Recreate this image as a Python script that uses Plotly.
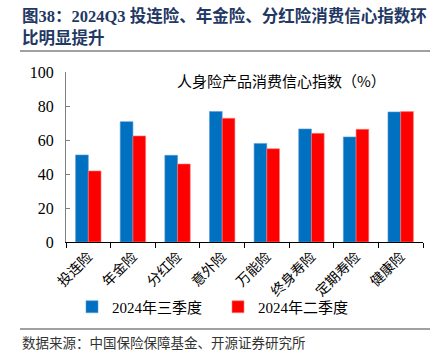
import plotly.graph_objects as go

categories = ["投连险", "年金险", "分红险", "意外险", "万能险", "终身寿险", "定期寿险", "健康险"]
q3_2024 = [51.2, 70.8, 51.0, 76.8, 58.0, 66.5, 61.8, 76.5]
q2_2024 = [41.8, 62.4, 45.9, 72.8, 54.9, 63.9, 66.3, 76.7]
series_names = ["2024年三季度", "2024年二季度"]
y_ticks = [0, 20, 40, 60, 80, 100]

W, H = 448, 361
L, R, T, B = 66, 25, 72, 119
pw, ph = W - L - R, H - T - B

def px(x):
    return (x - L) / pw

def py(y):
    return (H - B - y) / ph

cjk = "Noto Sans CJK SC"
serif = "Liberation Serif"

fig = go.Figure()
fig.add_trace(go.Bar(x=categories, y=q3_2024, name=series_names[0],
                     marker=dict(color="#0070C0", line=dict(color="#5B9BD5", width=0.6))))
fig.add_trace(go.Bar(x=categories, y=q2_2024, name=series_names[1],
                     marker=dict(color="#FF0000", line=dict(color="#FF7F7F", width=0.6))))

fig.update_layout(
    width=W, height=H,
    margin=dict(l=L, r=R, t=T, b=B, autoexpand=False),
    paper_bgcolor="white", plot_bgcolor="white",
    barmode="group", bargap=0.43, bargroupgap=0,
    showlegend=True,
    legend=dict(orientation="h", x=px(72), y=py(307), xanchor="left", yanchor="middle",
                font=dict(family=serif + ", " + cjk, size=15, color="black"),
                entrywidth=101, itemwidth=30, traceorder="normal",
                bgcolor="rgba(0,0,0,0)"),
    font=dict(family=cjk, color="black"),
)
fig.update_xaxes(
    automargin=False,
    showline=True, linecolor="black", linewidth=1,
    ticks="outside", ticklen=5, tickcolor="black", tickson="boundaries",
    tickangle=-45, tickfont=dict(family=cjk, size=14, color="black"),
    showgrid=False,
)
fig.update_yaxes(
    automargin=False,
    range=[0, 100], tickvals=y_ticks,
    showline=True, linecolor="#808080", linewidth=1,
    ticks="inside", ticklen=4, tickcolor="#808080",
    tickfont=dict(family=serif, size=16, color="black"),
    ticklabelstandoff=8,
    showgrid=False, zeroline=False,
)

annotations = [
    dict(text="<b>图38：2024Q3 投连险、年金险、分红险消费信心指数环</b>",
         x=px(20), y=py(16), xanchor="left", yanchor="middle",
         font=dict(family="Liberation Serif, " + cjk, size=16.5, color="#1F3864")),
    dict(text="<b>比明显提升</b>",
         x=px(20), y=py(38), xanchor="left", yanchor="middle",
         font=dict(family="Liberation Serif, " + cjk, size=16.5, color="#1F3864")),
    dict(text="人身险产品消费信心指数（%）",
         x=px(281), y=py(80), xanchor="center", yanchor="middle",
         font=dict(family=cjk, size=15, color="black")),
    dict(text="数据来源：中国保险保障基金、开源证券研究所",
         x=px(20), y=py(342), xanchor="left", yanchor="middle",
         font=dict(family=cjk, size=13.5, color="#333333")),
]
for a in annotations:
    a.update(xref="paper", yref="paper", showarrow=False)
fig.update_layout(annotations=annotations)

fig.add_shape(type="line", xref="paper", yref="paper",
              x0=px(20), x1=px(430), y0=py(51), y1=py(51),
              line=dict(color="#808080", width=1.5))
fig.add_shape(type="line", xref="paper", yref="paper",
              x0=px(20), x1=px(430), y0=py(329), y1=py(329),
              line=dict(color="#808080", width=1.5))

fig.write_html("out.html",
               config={"displayModeBar": False},
               post_script="document.body.style.margin='0';document.body.style.overflow='hidden';")
